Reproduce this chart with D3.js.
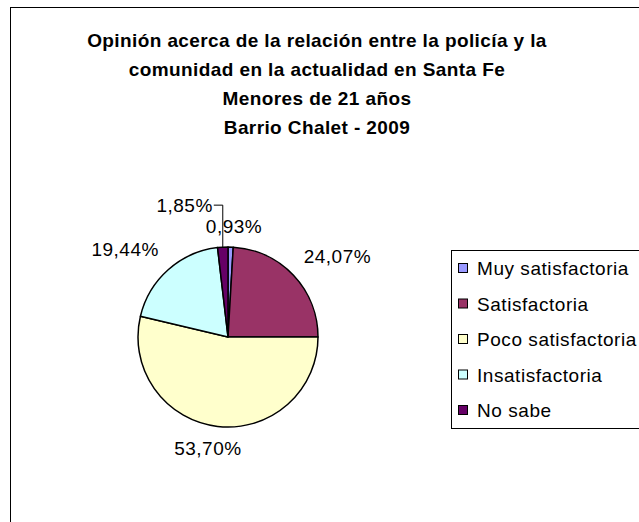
<!DOCTYPE html>
<head>
    <meta charset="utf-8"/>
    <script src="https://d3js.org/d3.v7.min.js"></script>
    <style>
        body { margin: 0; background: #fff; }
        svg text { font-family: Arial, "Liberation Sans", Helvetica, sans-serif; fill: #000; }
    </style>
</head>
<body>
<script>
    var width = 639,
        height = 522;

    // donnees
    var titleLines = ["Opinión acerca de la relación entre la policía y la",
        "comunidad en la actualidad en Santa Fe",
        "Menores de 21 años",
        "Barrio Chalet - 2009"];
    var categories = ["Muy satisfactoria", "Satisfactoria", "Poco satisfactoria", "Insatisfactoria", "No sabe"];
    var values = [0.93, 24.07, 53.70, 19.44, 1.85];
    var colors = ["#9999FF", "#993366", "#FFFFCC", "#CCFFFF", "#660066"];

    var cx = 228, cy = 337, radius = 90;

    var svg = d3.select("body").append("svg")
        .attr("width", width)
        .attr("height", height);

    // cadre exterieur (coupe a droite et en bas)
    svg.append("rect")
        .attr("x", 10.5).attr("y", 7.5)
        .attr("width", 700).attr("height", 600)
        .attr("fill", "none").attr("stroke", "#000").attr("stroke-width", 1);

    svg.append("g").selectAll("text")
        .data(titleLines)
        .join("text")
        .attr("x", 317)
        .attr("y", function (d, i) { return 47 + i * 29; })
        .attr("text-anchor", "middle")
        .attr("font-family", "Liberation Sans, Arial, sans-serif")
        .style("font-size", "19px")
        .style("font-weight", "bold")
        .style("letter-spacing", "0.4px")
        .text(function (d) { return d; });

    var data = categories.map(function (c, i) {
        return {name: c, value: values[i], color: colors[i]};
    });

    var pie = d3.pie().sort(null).value(function (d) { return d.value; });
    var arcs = pie(data);
    var arc = d3.arc().innerRadius(0).outerRadius(radius);

    var g = svg.append("g").attr("transform", "translate(" + cx + "," + cy + ")");

    g.selectAll("path")
        .data(arcs)
        .join("path")
        .attr("d", arc)
        .attr("fill", function (d) { return d.data.color; })
        .attr("stroke", "#000")
        .attr("stroke-width", 1.5)
        .attr("stroke-linejoin", "round");

    function fmt(v) {
        return v.toFixed(2).replace(".", ",") + "%";
    }

    // etiquettes
    var labelG = g.append("g");
    var smallCount = 0;
    arcs.forEach(function (d) {
        var a = (d.startAngle + d.endAngle) / 2;
        var s = Math.sin(a), c = -Math.cos(a);
        var r = radius + 14;
        var px = s * r, py = c * r;
        var t = labelG.append("text")
            .attr("font-family", "Liberation Sans, Arial, sans-serif")
            .style("font-size", "19px")
            .style("letter-spacing", "0.5px")
            .text(fmt(d.data.value));
        var small = (d.endAngle - d.startAngle) < 0.15;
        if (small && smallCount > 0) {
            // etiquette deplacee avec ligne de rappel
            var ex = s * radius, ey = c * radius;
            var ty = ey - 35;
            t.attr("x", ex - 10).attr("y", ty).attr("text-anchor", "end");
            labelG.append("polyline")
                .attr("points", [[ex - 9, ty - 7], [ex, ty - 7], [ex, ey]].join(" "))
                .attr("fill", "none").attr("stroke", "#000").attr("stroke-width", 1);
            return;
        }
        if (small) smallCount++;
        var anchor = Math.abs(s) < 0.3 ? "middle" : (s > 0 ? "start" : "end");
        var y = py - 3;
        if (c > 0.5) y = py + 15;
        if (small) y = py + 0;
        t.attr("x", Math.abs(s) < 0.3 ? px - (c > 0 ? 8 : -3) : px)
            .attr("y", y)
            .attr("text-anchor", anchor);
    });

    // legende
    var leg = svg.append("g").attr("transform", "translate(451,250)");
    leg.append("rect")
        .attr("x", 0.5).attr("y", 0.5)
        .attr("width", 250).attr("height", 178)
        .attr("fill", "#fff").attr("stroke", "#000").attr("stroke-width", 1);

    var items = leg.selectAll("g.item")
        .data(data)
        .join("g")
        .attr("class", "item")
        .attr("transform", function (d, i) { return "translate(0," + (18 + i * 35.5) + ")"; });

    items.append("rect")
        .attr("x", 7.5).attr("y", -4.5)
        .attr("width", 9).attr("height", 9)
        .attr("fill", function (d) { return d.color; })
        .attr("stroke", "#000").attr("stroke-width", 1);

    items.append("text")
        .attr("x", 26)
        .attr("y", 7)
        .attr("font-family", "Liberation Sans, Arial, sans-serif")
        .style("font-size", "19px")
        .style("letter-spacing", "0.55px")
        .text(function (d) { return d.name; });
</script>
</body>
